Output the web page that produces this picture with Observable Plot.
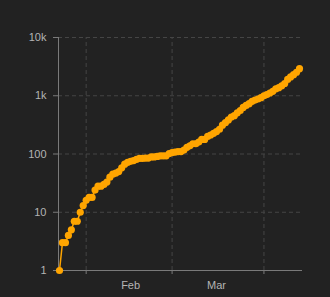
<!DOCTYPE html>
<html><head><meta charset="utf-8">
<script src="https://cdn.jsdelivr.net/npm/d3@7"></script>
<script src="https://cdn.jsdelivr.net/npm/@observablehq/plot@0.6"></script>
<style>
html,body{margin:0;padding:0;background:#222222;}
#chart{width:330px;height:297px;overflow:hidden;}
</style></head><body><div id="chart"></div>
<script>
const dates = [
"2020-01-23","2020-01-24","2020-01-25","2020-01-26","2020-01-27","2020-01-28","2020-01-29","2020-01-30","2020-01-31",
"2020-02-01","2020-02-02","2020-02-03","2020-02-04","2020-02-05","2020-02-06","2020-02-07","2020-02-08","2020-02-09","2020-02-10",
"2020-02-11","2020-02-12","2020-02-13","2020-02-14","2020-02-15","2020-02-16","2020-02-17","2020-02-18","2020-02-19","2020-02-20",
"2020-02-21","2020-02-22","2020-02-23","2020-02-24","2020-02-25","2020-02-26","2020-02-27","2020-02-28","2020-02-29",
"2020-03-01","2020-03-02","2020-03-03","2020-03-04","2020-03-05","2020-03-06","2020-03-07","2020-03-08","2020-03-09","2020-03-10",
"2020-03-11","2020-03-12","2020-03-13","2020-03-14","2020-03-15","2020-03-16","2020-03-17","2020-03-18","2020-03-19","2020-03-20",
"2020-03-21","2020-03-22","2020-03-23","2020-03-24","2020-03-25","2020-03-26","2020-03-27","2020-03-28","2020-03-29","2020-03-30","2020-03-31",
"2020-04-01","2020-04-02","2020-04-03","2020-04-04","2020-04-05","2020-04-06","2020-04-07","2020-04-08","2020-04-09","2020-04-10",
"2020-04-11","2020-04-12","2020-04-13"
];
const cases = [
1,3,3,4,5,7,7,10,13,
16,18,18,24,28,28,30,33,40,45,
47,50,58,67,72,75,77,81,84,84,
85,85,89,89,91,93,93,93,102,
106,108,110,110,117,130,138,150,150,160,
178,178,200,212,226,243,266,313,345,385,
432,455,509,558,631,683,732,802,844,879,926,
1000,1049,1114,1189,1309,1375,1481,1623,1910,2108,
2299,2532,2918
];
const yTicks = [1, 10, 100, 1000, 10000];
const yTickLabels = ["1", "10", "100", "1k", "10k"];
const monthTicks = ["2020-02-01", "2020-03-01", "2020-04-01"];
const monthLabels = ["Feb", "Mar"];
const monthLabelDates = ["2020-02-16", "2020-03-16"];

const data = dates.map((d, i) => ({date: new Date(d), cases: cases[i]}));
const monthTickDates = monthTicks.map(d => new Date(d));
const labelDates = monthLabelDates.map(d => new Date(d));

const gridColor = "#454545";
const axisColor = "#7a7a7a";
const textColor = "#b4b4b4";
const orange = "#ffa500";

const chart = Plot.plot({
  width: 330,
  height: 297,
  marginLeft: 58,
  marginRight: 28,
  marginTop: 37,
  marginBottom: 27,
  insetLeft: 1,
  insetRight: 3,
  style: {background: "#222222", fontFamily: "'Liberation Sans', Arial, sans-serif", fontSize: "11px", color: textColor},
  x: {type: "utc", domain: [data[0].date, data[data.length - 1].date]},
  y: {type: "log", domain: [1, 10000]},
  marks: [
    Plot.ruleY(yTicks, {stroke: gridColor, strokeDasharray: "4,3"}),
    Plot.ruleX(monthTickDates, {y1: 1, y2: 10000, stroke: gridColor, strokeDasharray: "4,3"}),
    Plot.ruleY([1], {stroke: axisColor}),
    Plot.ruleX([data[0].date], {y1: 1, y2: 10000, dx: -1, stroke: axisColor}),
    Plot.axisY({ticks: yTicks, tickFormat: d => yTickLabels[yTicks.indexOf(d)], tickSize: 5, tickPadding: 7, stroke: axisColor, fill: textColor, label: null}),
    Plot.axisX({ticks: monthTickDates, tickSize: 4, tickFormat: () => "", stroke: axisColor, label: null}),
    Plot.axisX({ticks: labelDates, tickSize: 0, tickPadding: 11, tickFormat: d => monthLabels[labelDates.findIndex(t => +t === +d)], fill: textColor, label: null}),
    Plot.line(data, {x: "date", y: "cases", stroke: orange, strokeWidth: 1.5}),
    Plot.dot(data, {x: "date", y: "cases", r: 3.6, fill: orange})
  ]
});
document.getElementById("chart").appendChild(chart);
</script>
</body></html>
